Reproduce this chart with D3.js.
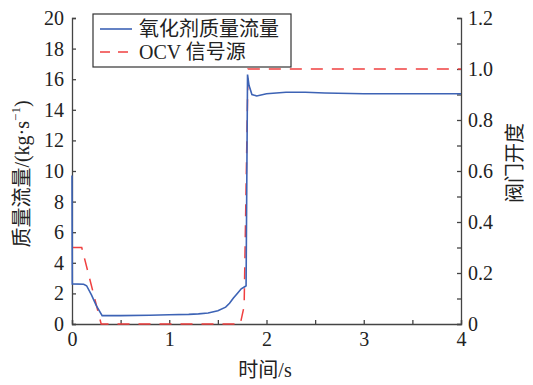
<!DOCTYPE html>
<html>
<head>
<meta charset="utf-8">
<script src="https://cdn.jsdelivr.net/npm/d3@7"></script>
<style>
  html, body { margin: 0; padding: 0; background: #fff; }
  svg { display: block; }
  text { fill: #222; }
</style>
</head>
<body>
<svg id="chart" width="533" height="385"></svg>
<script>
// Oxidizer mass flow (kg/s) over time (s)
const flowTime  = [0, 0.003, 0.12, 0.15, 0.2, 0.25, 0.31, 0.5, 0.8, 1.0, 1.2, 1.3, 1.4, 1.5, 1.58, 1.62, 1.66, 1.7, 1.74, 1.78, 1.79, 1.805, 1.82, 1.85, 1.9, 2.0, 2.2, 2.4, 2.6, 3.0, 4.0];
const flowValue = [9.7, 2.62, 2.6, 2.5, 1.9, 1.2, 0.55, 0.55, 0.57, 0.6, 0.63, 0.66, 0.72, 0.87, 1.1, 1.35, 1.7, 2.0, 2.3, 2.45, 2.5, 16.3, 15.6, 15.0, 14.9, 15.05, 15.15, 15.15, 15.1, 15.05, 15.05];

// OCV valve command signal (opening fraction)
const ocvTime  = [0, 0.1, 0.3, 1.73, 1.77, 1.81, 4.0];
const ocvValue = [0.3, 0.3, 0, 0, 0.07, 1.0, 1.0];

const xTicks = [0, 1, 2, 3, 4];
const yLeftTicks = [0, 2, 4, 6, 8, 10, 12, 14, 16, 18, 20];
const yRightTicks = [0, 0.2, 0.4, 0.6, 0.8, 1.0, 1.2];

const seriesNames = ["氧化剂质量流量", "OCV 信号源"];
const colors = ["#3d63b5", "#f04040"];

const svg = d3.select("#chart");
const L = 72, R = 461, T = 18, B = 324;
const serif = "'Liberation Serif','Times New Roman','Noto Sans CJK SC',serif";
const axisColor = "#444";

const x = d3.scaleLinear().domain([0, 4]).range([L, R]);
const yL = d3.scaleLinear().domain([0, 20]).range([B, T]);
const yR = d3.scaleLinear().domain([0, 1.2]).range([B, T]);

// Axes
svg.append("g").attr("transform", `translate(0,${B})`)
  .call(d3.axisBottom(x).tickValues(d3.range(0, 4.01, 0.5)).tickSize(-4).tickFormat(""));
svg.append("g").attr("transform", `translate(0,${B})`)
  .call(d3.axisBottom(x).tickValues(xTicks).tickSize(0).tickPadding(8).tickFormat(d3.format("d")))
  .call(g => g.select(".domain").remove());

svg.append("g").attr("transform", `translate(${L},0)`)
  .call(d3.axisLeft(yL).tickValues(yLeftTicks).tickSize(-4).tickPadding(8).tickFormat(d3.format("d")));

svg.append("g").attr("transform", `translate(${R},0)`)
  .call(d3.axisRight(yR).tickValues(d3.range(0, 1.201, 0.1)).tickSize(-4).tickFormat(""));
svg.append("g").attr("transform", `translate(${R},0)`)
  .call(d3.axisRight(yR).tickValues(yRightTicks).tickSize(0).tickPadding(7)
    .tickFormat(d => d === 0 ? "0" : d3.format(".1f")(d)))
  .call(g => g.select(".domain").remove());

svg.selectAll(".domain, .tick line").attr("stroke", axisColor).attr("stroke-width", 1.3);
svg.selectAll(".tick text").attr("font-family", serif).attr("font-size", 20).attr("fill", "#222");

// Series
const flowLine = d3.line().x(d => x(d[0])).y(d => yL(d[1]));
const ocvLine = d3.line().x(d => x(d[0])).y(d => yR(d[1]));

svg.append("path")
  .datum(ocvTime.map((t, i) => [t, ocvValue[i]]))
  .attr("d", ocvLine).attr("fill", "none")
  .attr("stroke", colors[1]).attr("stroke-width", 1.5).attr("stroke-dasharray", "12,9");

svg.append("path")
  .datum(flowTime.map((t, i) => [t, flowValue[i]]))
  .attr("d", flowLine).attr("fill", "none")
  .attr("stroke", colors[0]).attr("stroke-width", 1.6);

// Legend
const lg = svg.append("g");
lg.append("rect").attr("x", 93).attr("y", 14).attr("width", 198).attr("height", 53)
  .attr("fill", "#fff").attr("stroke", "#333").attr("stroke-width", 1.2);
seriesNames.forEach((name, i) => {
  const cy = 29 + i * 23;
  lg.append("line").attr("x1", 100).attr("x2", 132).attr("y1", cy).attr("y2", cy)
    .attr("stroke", colors[i]).attr("stroke-width", 1.6)
    .attr("stroke-dasharray", i === 1 ? "10,8" : null);
  lg.append("text").attr("x", 139).attr("y", cy).attr("dy", "0.35em")
    .attr("font-family", serif).attr("font-size", 20).text(name);
});

// Axis titles
svg.append("text").attr("x", 265).attr("y", 370).attr("dy", "0.35em")
  .attr("text-anchor", "middle").attr("font-family", serif).attr("font-size", 20)
  .text("时间/s");

const yt = svg.append("text")
  .attr("transform", "translate(22,174) rotate(-90)")
  .attr("text-anchor", "middle").attr("dy", "0.35em")
  .attr("font-family", serif).attr("font-size", 20);
yt.append("tspan").text("质量流量/(kg·s");
yt.append("tspan").attr("font-size", 13).attr("dy", "-0.7em").text("−1");
yt.append("tspan").attr("dy", "0.45em").text(")");

svg.append("text")
  .attr("transform", "translate(515,163) rotate(-90)")
  .attr("text-anchor", "middle").attr("dy", "0.35em")
  .attr("font-family", serif).attr("font-size", 20)
  .text("阀门开度");
</script>
</body>
</html>
